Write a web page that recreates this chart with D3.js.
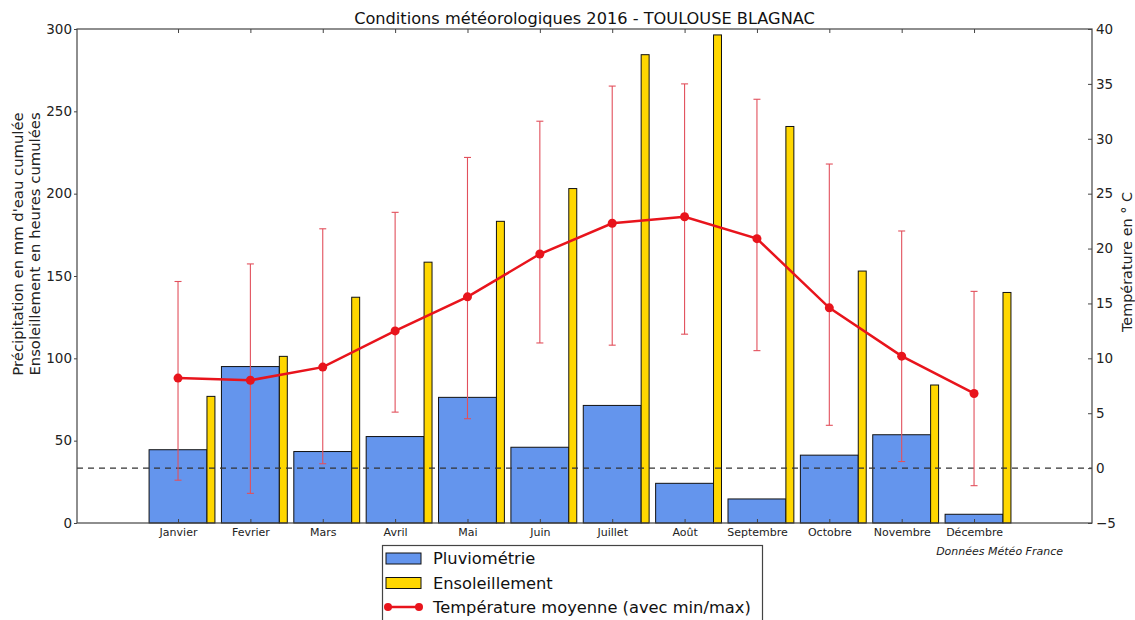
<!DOCTYPE html>
<html>
<head>
<meta charset="utf-8">
<script src="https://d3js.org/d3.v7.min.js"></script>
<style>
  html, body { margin: 0; padding: 0; background: #fff; }
  svg { display: block; font-family: "DejaVu Sans", sans-serif; }
</style>
</head>
<body>
<svg id="chart" width="1135" height="620"></svg>
<script>
// Monthly weather data, Toulouse-Blagnac 2016
const months = ["Janvier", "Fevrier", "Mars", "Avril", "Mai", "Juin", "Juillet", "Août", "Septembre", "Octobre", "Novembre", "Décembre"];
const pluviometrie = [44.5, 95, 43.4, 52.5, 76.3, 46, 71.4, 24.1, 14.6, 41.2, 53.6, 5.3];      // mm
const ensoleillement = [76.9, 101.2, 137.1, 158.4, 183.2, 203.1, 284.4, 296.4, 240.8, 153, 83.8, 140]; // hours
const tempMoy = [8.2, 8.0, 9.2, 12.5, 15.6, 19.5, 22.3, 22.9, 20.9, 14.6, 10.2, 6.8];
const tempMin = [-1.1, -2.3, 0.4, 5.1, 4.5, 11.4, 11.2, 12.2, 10.7, 3.9, 0.6, -1.6];
const tempMax = [17.0, 18.6, 21.8, 23.3, 28.3, 31.6, 34.8, 35.0, 33.6, 27.7, 21.6, 16.1];
const leftTicks = [0, 50, 100, 150, 200, 250, 300];
const rightTicks = [-5, 0, 5, 10, 15, 20, 25, 30, 35, 40];

const svg = d3.select("#chart");
const L = 77, R = 1092, T = 29, B = 523;
const spine = "#444";

const x = d3.scaleLinear().domain([-1.396, 12.63]).range([L, R]);
const yL = d3.scaleLinear().domain([0, 300]).range([B, T]);
const yR = d3.scaleLinear().domain([-5, 40]).range([B, T]);
const idx = months.map((_, i) => i);

// Precipitation bars
svg.append("g").selectAll("rect").data(pluviometrie).join("rect")
  .attr("x", (d, i) => x(i - 0.4))
  .attr("width", (d, i) => x(i + 0.4) - x(i - 0.4))
  .attr("y", d => yL(d))
  .attr("height", d => yL(0) - yL(d))
  .attr("fill", "#6495ED").attr("stroke", "#111").attr("stroke-width", 1);

// Sunshine bars
svg.append("g").selectAll("rect").data(ensoleillement).join("rect")
  .attr("x", (d, i) => x(i + 0.4))
  .attr("width", (d, i) => x(i + 0.51) - x(i + 0.4))
  .attr("y", d => yL(d))
  .attr("height", d => yL(0) - yL(d))
  .attr("fill", "#FFD700").attr("stroke", "#111").attr("stroke-width", 1);

// Zero-degree reference line
svg.append("line")
  .attr("x1", L).attr("x2", R).attr("y1", yR(0)).attr("y2", yR(0))
  .attr("stroke", "#333").attr("stroke-width", 1.2).attr("stroke-dasharray", "6,5");

// Min/max temperature whiskers
const err = svg.append("g").attr("stroke", "#e2505c").attr("stroke-width", 1.1);
idx.forEach(i => {
  err.append("line").attr("x1", x(i)).attr("x2", x(i)).attr("y1", yR(tempMin[i])).attr("y2", yR(tempMax[i]));
  err.append("line").attr("x1", x(i) - 3.5).attr("x2", x(i) + 3.5).attr("y1", yR(tempMin[i])).attr("y2", yR(tempMin[i]));
  err.append("line").attr("x1", x(i) - 3.5).attr("x2", x(i) + 3.5).attr("y1", yR(tempMax[i])).attr("y2", yR(tempMax[i]));
});

// Mean temperature line
const line = d3.line().x((d, i) => x(i)).y(d => yR(d));
svg.append("path").datum(tempMoy)
  .attr("d", line).attr("fill", "none").attr("stroke", "#e8141c").attr("stroke-width", 2.5);
svg.append("g").selectAll("circle").data(tempMoy).join("circle")
  .attr("cx", (d, i) => x(i)).attr("cy", d => yR(d)).attr("r", 4.5)
  .attr("fill", "#e8141c");

// Frame
svg.append("rect").attr("x", L).attr("y", T).attr("width", R - L).attr("height", B - T)
  .attr("fill", "none").attr("stroke", spine).attr("stroke-width", 1.2);

function styleAxis(g, size) {
  g.select(".domain").remove();
  g.selectAll(".tick line").attr("stroke", spine);
  g.selectAll(".tick text").attr("fill", "#222").attr("font-size", size).attr("font-family", "DejaVu Sans");
}

// Left axis
svg.append("g").attr("transform", `translate(${L},0)`)
  .call(d3.axisLeft(yL).tickValues(leftTicks).tickSize(3).tickPadding(2))
  .call(g => styleAxis(g, 13.5));

// Right axis
svg.append("g").attr("transform", `translate(${R},0)`)
  .call(d3.axisRight(yR).tickValues(rightTicks).tickSize(-4).tickPadding(4))
  .call(g => styleAxis(g, 13.5));

// Bottom axis with month names
svg.append("g").attr("transform", `translate(0,${B})`)
  .call(d3.axisBottom(x).tickValues(idx).tickFormat(i => months[i]).tickSize(-4).tickPadding(5))
  .call(g => styleAxis(g, 11));

// Top ticks
svg.append("g").attr("transform", `translate(0,${T})`)
  .call(d3.axisTop(x).tickValues(idx).tickFormat("").tickSize(-4))
  .call(g => styleAxis(g, 11));

// Title
svg.append("text").attr("x", (L + R) / 2).attr("y", 24).attr("text-anchor", "middle")
  .attr("font-size", 16.2).attr("fill", "#111")
  .text("Conditions météorologiques 2016 - TOULOUSE BLAGNAC");

// Axis titles
const yl = svg.append("text").attr("transform", "translate(0,244) rotate(-90)")
  .attr("text-anchor", "middle").attr("font-size", 14.8).attr("fill", "#222");
yl.append("tspan").attr("x", 0).attr("y", 23).text("Précipitation en mm d'eau cumulée");
yl.append("tspan").attr("x", 0).attr("y", 40).text("Ensoleillement en heures cumulées");

svg.append("text").attr("transform", "translate(1132,262) rotate(-90)")
  .attr("text-anchor", "middle").attr("font-size", 14.4).attr("fill", "#222")
  .text("Température en ° C");

// Source note
svg.append("text").attr("x", 1063).attr("y", 555).attr("text-anchor", "end")
  .attr("font-size", 11).attr("font-style", "italic").attr("fill", "#222")
  .text("Données Météo France");

// Legend
const lg = svg.append("g");
lg.append("rect").attr("x", 382.5).attr("y", 545.5).attr("width", 380).attr("height", 90)
  .attr("fill", "#fff").attr("stroke", spine).attr("stroke-width", 1.2);
const legendItems = [
  { label: "Pluviométrie", color: "#6495ED", type: "bar" },
  { label: "Ensoleillement", color: "#FFD700", type: "bar" },
  { label: "Température moyenne (avec min/max)", color: "#e8141c", type: "line" }
];
legendItems.forEach((d, k) => {
  const yc = 558 + k * 24.5;
  if (d.type === "bar") {
    lg.append("rect").attr("x", 386).attr("y", yc - 5).attr("width", 35).attr("height", 11)
      .attr("fill", d.color).attr("stroke", "#111").attr("stroke-width", 1);
  } else {
    lg.append("line").attr("x1", 388).attr("x2", 419).attr("y1", yc).attr("y2", yc)
      .attr("stroke", d.color).attr("stroke-width", 2.5);
    [388, 419].forEach(cx => lg.append("circle").attr("cx", cx).attr("cy", yc).attr("r", 4).attr("fill", d.color));
  }
  lg.append("text").attr("x", 433).attr("y", yc + 6).attr("font-size", 16.3).attr("fill", "#111").text(d.label);
});
</script>
</body>
</html>
